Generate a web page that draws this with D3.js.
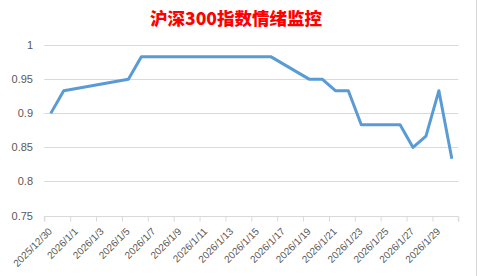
<!DOCTYPE html>
<html><head><meta charset="utf-8">
<script src="https://cdn.jsdelivr.net/npm/d3@7"></script>
<style>
html,body{margin:0;padding:0;background:#fff;}
svg{display:block;}
</style></head>
<body>
<script>
const title = "沪深300指数情绪监控";
const dates = ["2025/12/30","2025/12/31","2026/1/5","2026/1/6","2026/1/7","2026/1/8","2026/1/9","2026/1/12","2026/1/13","2026/1/14","2026/1/15","2026/1/16","2026/1/19","2026/1/20","2026/1/21","2026/1/22","2026/1/23","2026/1/26","2026/1/27","2026/1/28","2026/1/29","2026/1/30"];
const values = [0.9,0.9333,0.95,0.9833,0.9833,0.9833,0.9833,0.9833,0.9833,0.9833,0.9833,0.9833,0.95,0.95,0.9333,0.9333,0.8833,0.8833,0.85,0.8667,0.9333,0.8333];
const yTicks = [0.75,0.8,0.85,0.9,0.95,1];
const xDomain = ["2025/12/30","2026/1/31"];

const W = 477, H = 276;
const parse = s => { const [y,m,d] = s.split("/").map(Number); return new Date(Date.UTC(y,m-1,d)); };
const fmt = d => `${d.getUTCFullYear()}/${d.getUTCMonth()+1}/${d.getUTCDate()}`;

const svg = d3.select("body").append("svg").attr("width",W).attr("height",H);
svg.append("rect").attr("width",W).attr("height",H).attr("fill","#fff");
svg.append("line").attr("x1",476.5).attr("x2",476.5).attr("y1",0).attr("y2",H).attr("stroke","#d9d9d9");

const x = d3.scaleUtc().domain(xDomain.map(parse)).range([44.3,458.3]);
const y = d3.scaleLinear().domain([0.75,1]).range([215.5,45.3]);

svg.append("text").attr("x",236).attr("y",25).attr("text-anchor","middle")
  .attr("font-family","'Noto Sans CJK SC'").attr("font-weight","900").attr("font-size",17.5)
  .attr("fill","#ff0000").text(title);

// grid
svg.append("g").selectAll("line").data(yTicks).join("line")
  .attr("x1",44.3).attr("x2",458.3).attr("y1",d=>Math.round(y(d))+0.5).attr("y2",d=>Math.round(y(d))+0.5)
  .attr("stroke","#d9d9d9").attr("stroke-width",1);

svg.append("g").selectAll("text").data(yTicks).join("text")
  .attr("x",33).attr("y",d=>y(d)+4).attr("text-anchor","end")
  .attr("font-family","'Liberation Sans', Arial, sans-serif").attr("font-size",11).attr("fill","#595959")
  .text(d=>d3.format("")(d));

// x axis
const tickDates = d3.utcDay.range(parse(xDomain[0]), d3.utcDay.offset(parse(xDomain[1]),1), 2);
const xAxis = d3.axisBottom(x).tickValues(tickDates).tickSize(5).tickFormat("");
const gx = svg.append("g").attr("transform",`translate(0,${Math.round(y(0.75))+0.5})`).call(xAxis);
gx.selectAll("path,line").attr("stroke","#d9d9d9");
gx.select(".domain").attr("d",`M44.3,5V0H458.3V5`);

svg.append("g").selectAll("text").data(tickDates.slice(0,-1)).join("text")
  .attr("x",0).attr("y",0)
  .attr("transform",d=>`translate(${x(d)+8.5},${232}) rotate(-45)`)
  .attr("text-anchor","end")
  .attr("font-family","'Liberation Sans', Arial, sans-serif").attr("font-size",10).attr("fill","#595959")
  .text(fmt);

const pts = dates.map((d,i)=>({d:d3.utcHour.offset(parse(d),12), v:values[i]}));
svg.append("path").datum(pts)
  .attr("fill","none").attr("stroke","#5b9bd5").attr("stroke-width",3).attr("stroke-linejoin","round")
  .attr("d",d3.line().x(p=>x(p.d)).y(p=>y(p.v)));
</script>
</body></html>
